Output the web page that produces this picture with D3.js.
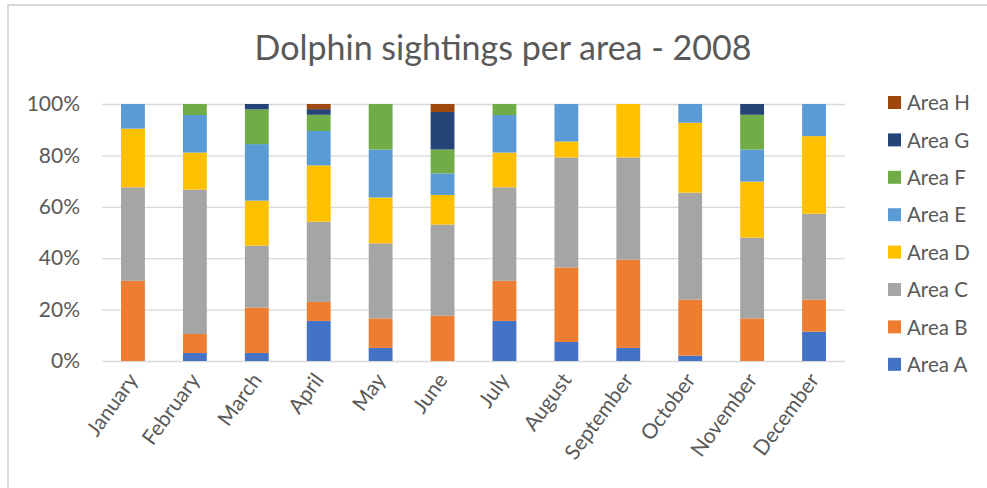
<!DOCTYPE html>
<html>
<head>
<meta charset="utf-8">
<script src="https://cdn.jsdelivr.net/npm/d3@7"></script>
<style>
  html, body { margin: 0; padding: 0; background: #fff; }
  svg { display: block; font-family: Lato, "Open Sans", sans-serif; }
</style>
</head>
<body>
<svg id="chart" width="987" height="488"></svg>
<script>
// Monthly dolphin sightings, share per area (each month sums to 100%)
const months = ["January", "February", "March", "April", "May", "June",
                "July", "August", "September", "October", "November", "December"];
const areas = ["Area A", "Area B", "Area C", "Area D", "Area E", "Area F", "Area G", "Area H"];

const areaA = [0,    3.1,  3.1,  15.6, 5.1,  0,    15.6, 7.4,  5.1,  2.1,  0,    11.4];
const areaB = [31.2, 7.4,  17.7, 7.4,  11.5, 17.6, 15.6, 29.0, 34.3, 21.8, 16.6, 12.5];
const areaC = [36.4, 56.2, 24.1, 31.2, 29.2, 35.5, 36.4, 42.8, 39.8, 41.6, 31.4, 33.4];
const areaD = [22.8, 14.4, 17.5, 21.9, 17.8, 11.5, 13.5, 6.2,  20.8, 27.2, 21.8, 30.2];
const areaE = [9.6,  14.6, 22.0, 13.4, 18.7, 8.4,  14.6, 14.6, 0,    7.3,  12.5, 12.5];
const areaF = [0,    4.3,  13.5, 6.3,  17.7, 9.3,  4.3,  0,    0,    0,    13.5, 0];
const areaG = [0,    0,    2.1,  2.2,  0,    14.6, 0,    0,    0,    0,    4.2,  0];
const areaH = [0,    0,    0,    2.0,  0,    3.1,  0,    0,    0,    0,    0,    0];

const yTicks = [0, 0.2, 0.4, 0.6, 0.8, 1.0];
const colors = ["#4472C4", "#ED7D31", "#A5A5A5", "#FFC000", "#5B9BD5", "#70AD47", "#264478", "#9E480E"];

const seriesValues = [areaA, areaB, areaC, areaD, areaE, areaF, areaG, areaH];
const rows = months.map((m, i) => {
  const r = { month: m };
  areas.forEach((a, k) => { r[a] = seriesValues[k][i]; });
  return r;
});

const svg = d3.select("#chart");
const margin = { left: 102, right: 142, top: 104, bottom: 127 };
const W = 987, H = 488;

// chart frame
svg.append("rect")
  .attr("x", 8).attr("y", 5)
  .attr("width", W + 10).attr("height", H + 10)
  .attr("fill", "#fff").attr("stroke", "#D9D9D9").attr("stroke-width", 2);

const x = d3.scaleBand()
  .domain(months)
  .range([margin.left, W - margin.right])
  .paddingInner(0.615).paddingOuter(0.3075);

const y = d3.scaleLinear().domain([0, 1]).range([H - margin.bottom, margin.top]);

const stack = d3.stack().keys(areas).offset(d3.stackOffsetExpand);
const stacked = stack(rows);

// title
svg.append("text")
  .attr("x", 503).attr("y", 60)
  .attr("text-anchor", "middle")
  .attr("font-size", 34)
  .attr("fill", "#595959")
  .text("Dolphin sightings per area - 2008");

// gridlines + y axis labels
const yAxis = d3.axisLeft(y)
  .tickValues(yTicks)
  .tickFormat(d3.format(".0%"))
  .tickSize(-(W - margin.right - margin.left))
  .tickPadding(22);

const gy = svg.append("g")
  .attr("transform", `translate(${margin.left},0)`)
  .call(yAxis);
gy.select(".domain").remove();
gy.selectAll(".tick line").attr("stroke", "#D9D9D9").attr("stroke-width", 1.3);
gy.selectAll(".tick text")
  .attr("fill", "#595959")
  .attr("font-size", 21)
  .attr("font-family", "Lato, sans-serif");

// stacked bars
svg.append("g")
  .selectAll("g")
  .data(stacked)
  .join("g")
  .attr("fill", (d, i) => colors[i])
  .selectAll("rect")
  .data(d => d)
  .join("rect")
  .attr("x", d => x(d.data.month))
  .attr("y", d => y(d[1]))
  .attr("width", x.bandwidth())
  .attr("height", d => Math.max(0, y(d[0]) - y(d[1])));

// x axis labels (rotated)
const xAxis = d3.axisBottom(x).tickSize(0).tickPadding(0);
const gx = svg.append("g")
  .attr("transform", `translate(0,${H - margin.bottom})`)
  .call(xAxis);
gx.select(".domain").remove();
gx.selectAll(".tick text")
  .attr("fill", "#595959")
  .attr("font-size", 21)
  .attr("font-family", "Lato, sans-serif")
  .attr("text-anchor", "end")
  .attr("dy", null)
  .attr("y", null)
  .attr("transform", "translate(6,19) rotate(-54)");

// legend (top to bottom: H ... A)
const legendOrder = areas.slice().reverse();
const lg = svg.append("g").attr("transform", "translate(888,103)");
legendOrder.forEach((name, i) => {
  const g = lg.append("g").attr("transform", `translate(0,${i * 37.4})`);
  g.append("rect")
    .attr("x", 0).attr("y", -7)
    .attr("width", 13).attr("height", 13)
    .attr("fill", colors[areas.indexOf(name)]);
  g.append("text")
    .attr("x", 19).attr("y", 0)
    .attr("dy", "0.35em")
    .attr("font-size", 20.5)
    .attr("fill", "#595959")
    .text(name);
});
</script>
</body>
</html>
